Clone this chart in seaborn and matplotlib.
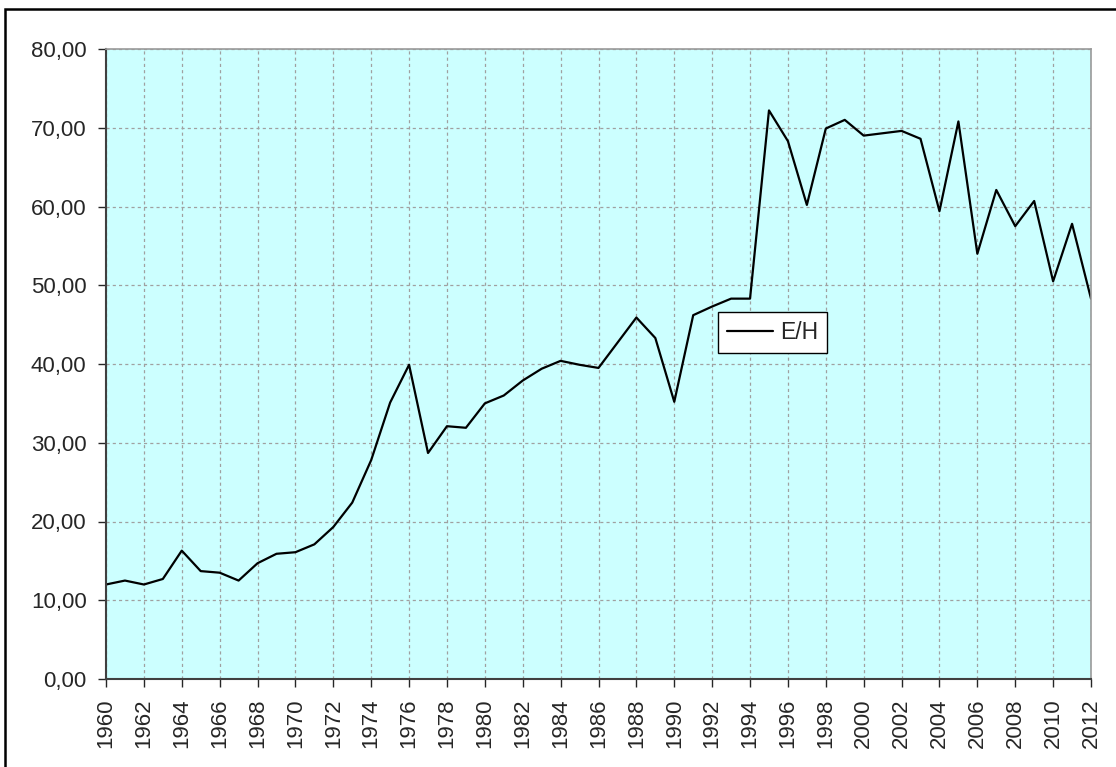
import matplotlib
matplotlib.use("Agg")
import matplotlib.pyplot as plt
import matplotlib.ticker as mticker
from matplotlib.patches import Rectangle
import seaborn as sns
import pandas as pd

years = list(range(1960, 2013))
eh_values = [12.0, 12.5, 12.0, 12.7, 16.3, 13.7, 13.5, 12.5, 14.7, 15.9,
             16.1, 17.1, 19.3, 22.4, 27.8, 35.1, 39.9, 28.7, 32.1, 31.9,
             35.0, 36.0, 37.9, 39.4, 40.4, 39.9, 39.5, 42.7, 45.9, 43.3,
             35.2, 46.2, 47.3, 48.3, 48.3, 72.2, 68.3, 60.2, 69.9, 71.0,
             69.0, 69.3, 69.6, 68.6, 59.4, 70.8, 54.0, 62.1, 57.5, 60.7,
             50.5, 57.8, 48.3]
series_name = "E/H"
y_ticks = [0, 10, 20, 30, 40, 50, 60, 70, 80]
x_ticks = list(range(1960, 2013, 2))

df = pd.DataFrame({"Year": years, "Value": eh_values})

sns.set_style("white")
plt.rcParams["font.family"] = ["Liberation Sans", "DejaVu Sans"]

W, H = 1116, 767
fig = plt.figure(figsize=(W / 100, H / 100), dpi=100)
ax = fig.add_axes([106 / W, 1 - 679 / H, (1091 - 106) / W, (679 - 49) / H])
ax.set_facecolor("#CCFFFF")

sns.lineplot(data=df, x="Year", y="Value", ax=ax, color="black", lw=1.6, label=series_name)

ax.set_xlim(1960, 2012)
ax.set_ylim(0, 80)
ax.set_xticks(x_ticks)
ax.set_xticklabels([str(x) for x in x_ticks], rotation=90, fontsize=16)
ax.set_yticks(y_ticks)
ax.yaxis.set_major_formatter(mticker.FuncFormatter(lambda v, p: f"{v:.2f}".replace(".", ",")))
ax.tick_params(axis="y", labelsize=16, length=6, width=1, direction="out", left=True, pad=8)
ax.tick_params(axis="x", length=6, width=1, direction="out", bottom=True, pad=8)
ax.set_xlabel("")
ax.set_ylabel("")
ax.grid(True, color="#A0A0A0", linestyle=(0, (2.5, 2.5)), lw=0.9)
ax.set_axisbelow(True)

for side in ["left", "bottom"]:
    ax.spines[side].set_color("#404040")
    ax.spines[side].set_linewidth(1.5)
for side in ["top", "right"]:
    ax.spines[side].set_color("#999999")
    ax.spines[side].set_linewidth(1.2)

leg = ax.legend(loc="lower left", bbox_to_anchor=(718 / W, 1 - 353 / H),
                bbox_transform=fig.transFigure, borderaxespad=0, fontsize=16.5,
                fancybox=False, framealpha=1, edgecolor="black",
                handlelength=2.0, handletextpad=0.3, borderpad=0.4)
leg.get_frame().set_linewidth(1.0)

fig.patches.append(Rectangle((5 / W, -0.05), 1.2, 1 - 9 / H + 0.05,
                             transform=fig.transFigure, fill=False,
                             edgecolor="black", linewidth=1.8))

fig.savefig("out.png", dpi=100)
